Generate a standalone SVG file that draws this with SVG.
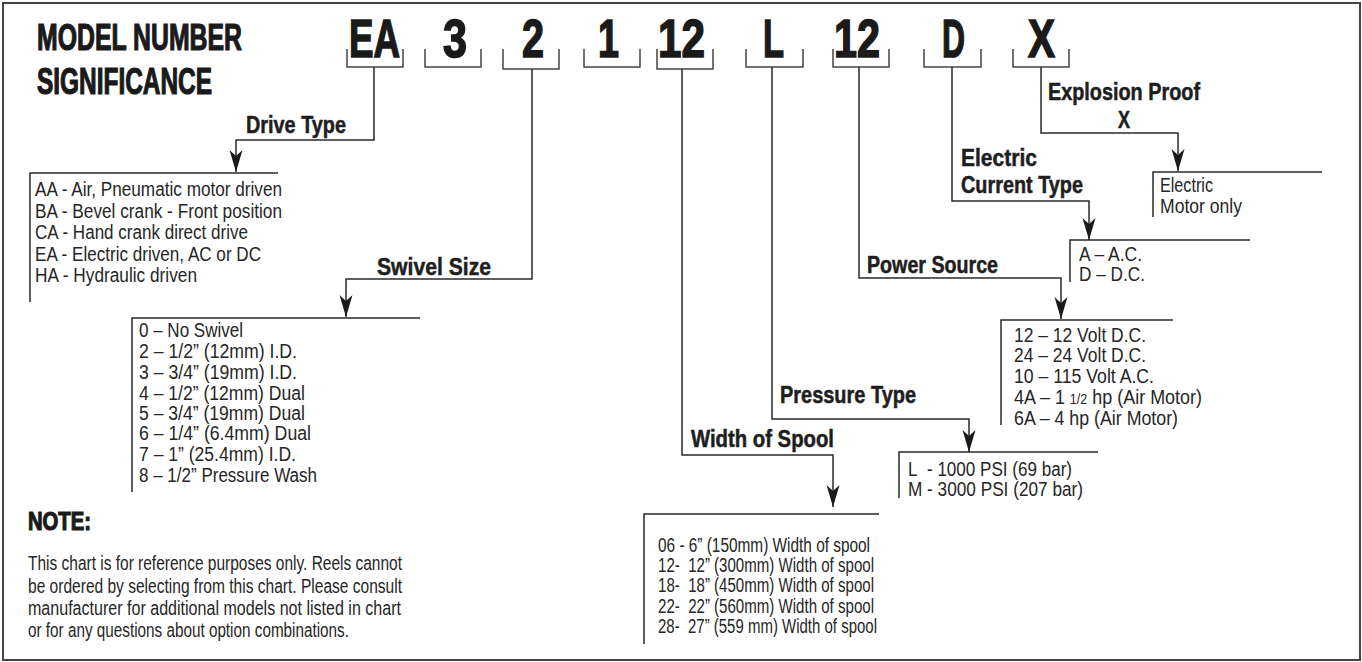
<svg xmlns="http://www.w3.org/2000/svg" width="1362" height="662" viewBox="0 0 1362 662">
<style>
.t{font-family:"Liberation Sans Narrow","Liberation Sans",Arial,sans-serif;font-size:20px;fill:#262626}
.s{font-size:20px}
.d{font-size:20px}
.b{font-family:"Liberation Sans Narrow","Liberation Sans",Arial,sans-serif;font-weight:bold;font-size:23px;fill:#1e1e1e;stroke:#1e1e1e;stroke-width:0.5}
.h{font-family:"Liberation Sans Narrow","Liberation Sans",Arial,sans-serif;font-weight:bold;fill:#1a1a1a;stroke:#1a1a1a;stroke-width:1.2}
.c{font-size:54px;stroke-width:1.6}
.ln{fill:none;stroke:#2a2a2a;stroke-width:1.5}
.br{fill:none;stroke:#444;stroke-width:1.5}
.ar{fill:none;stroke:#2a2a2a;stroke-width:1.5;marker-end:url(#ah)}
</style>
<defs>
<marker id="ah" viewBox="0 0 22 14" refX="22" refY="7" markerWidth="22" markerHeight="14" markerUnits="userSpaceOnUse" orient="auto">
<path d="M0,0.5 L22,7 L0,13.5 L6,7 Z" fill="#1a1a1a"/>
</marker>
</defs>
<rect x="3" y="3" width="1357" height="657" fill="#fff" stroke="#444" stroke-width="2"/>

<g id="title">
<text class="h" x="37" y="50" font-size="36" textLength="205" lengthAdjust="spacingAndGlyphs">MODEL NUMBER</text>
<text class="h" x="37" y="94" font-size="36" textLength="175" lengthAdjust="spacingAndGlyphs">SIGNIFICANCE</text>
</g>

<g id="code">
<text class="h c" x="349" y="57" textLength="51" lengthAdjust="spacingAndGlyphs">EA</text>
<text class="h c" x="443" y="57" textLength="24" lengthAdjust="spacingAndGlyphs">3</text>
<text class="h c" x="522" y="57" textLength="22" lengthAdjust="spacingAndGlyphs">2</text>
<text class="h c" x="598" y="57" textLength="21" lengthAdjust="spacingAndGlyphs">1</text>
<text class="h c" x="658" y="57" textLength="47" lengthAdjust="spacingAndGlyphs">12</text>
<text class="h c" x="763" y="57" textLength="21" lengthAdjust="spacingAndGlyphs">L</text>
<text class="h c" x="834" y="57" textLength="46" lengthAdjust="spacingAndGlyphs">12</text>
<text class="h c" x="942" y="57" textLength="23" lengthAdjust="spacingAndGlyphs">D</text>
<text class="h c" x="1028" y="57" textLength="27" lengthAdjust="spacingAndGlyphs">X</text>
<path class="br" d="M347,49V67H403V49 M425,49V67H481V49 M503,49V69H559V49 M584,49V67H640V49 M657,49V69H713V49 M746,49V67H803V49 M833,49V67H889V49 M924,49V67H981V49 M1013,49V67H1069V49"/>
</g>

<g id="connectors">
<polyline class="ar" points="374,67 374,140 236,140 236,172"/>
<polyline class="ar" points="532,69 532,279 346,279 346,317"/>
<polyline class="ar" points="682,69 682,455 833,455 833,507"/>
<polyline class="ar" points="772,67 772,419 969,419 969,452"/>
<polyline class="ar" points="859,67 859,278 1061,278 1061,319"/>
<polyline class="ar" points="952,67 952,201 1089,201 1089,240"/>
<polyline class="ar" points="1041,67 1041,133 1178,133 1178,171"/>
</g>

<g id="drive-type">
<text class="b" x="246" y="133" textLength="100" lengthAdjust="spacingAndGlyphs">Drive Type</text>
<path class="ln" d="M278,173H30V302"/>
<text class="t d" x="35" y="196" textLength="247" lengthAdjust="spacingAndGlyphs">AA - Air, Pneumatic motor driven</text>
<text class="t d" x="35" y="217.5" textLength="247" lengthAdjust="spacingAndGlyphs">BA - Bevel crank - Front position</text>
<text class="t d" x="35" y="239" textLength="213" lengthAdjust="spacingAndGlyphs">CA - Hand crank direct drive</text>
<text class="t d" x="35" y="260.5" textLength="226" lengthAdjust="spacingAndGlyphs">EA - Electric driven, AC or DC</text>
<text class="t d" x="35" y="282" textLength="162" lengthAdjust="spacingAndGlyphs">HA - Hydraulic driven</text>
</g>

<g id="swivel-size">
<text class="b" x="377" y="275" textLength="114" lengthAdjust="spacingAndGlyphs">Swivel Size</text>
<path class="ln" d="M420,318H132V492"/>
<text class="t s" x="139" y="337" textLength="104" lengthAdjust="spacingAndGlyphs">0 – No Swivel</text>
<text class="t s" x="139" y="358" textLength="158" lengthAdjust="spacingAndGlyphs">2 – 1/2” (12mm) I.D.</text>
<text class="t s" x="139" y="379" textLength="158" lengthAdjust="spacingAndGlyphs">3 – 3/4” (19mm) I.D.</text>
<text class="t s" x="139" y="400" textLength="166" lengthAdjust="spacingAndGlyphs">4 – 1/2” (12mm) Dual</text>
<text class="t s" x="139" y="420" textLength="166" lengthAdjust="spacingAndGlyphs">5 – 3/4” (19mm) Dual</text>
<text class="t s" x="139" y="440" textLength="172" lengthAdjust="spacingAndGlyphs">6 – 1/4” (6.4mm) Dual</text>
<text class="t s" x="139" y="461" textLength="157" lengthAdjust="spacingAndGlyphs">7 – 1” (25.4mm) I.D.</text>
<text class="t s" x="139" y="482" textLength="178" lengthAdjust="spacingAndGlyphs">8 – 1/2” Pressure Wash</text>
</g>

<g id="width-of-spool">
<text class="b" x="691" y="447" textLength="143" lengthAdjust="spacingAndGlyphs">Width of Spool</text>
<path class="ln" d="M879,514H644V644"/>
<text class="t s" x="658" y="552" textLength="212" lengthAdjust="spacingAndGlyphs">06 - 6” (150mm) Width of spool</text>
<text class="t s" x="658" y="572" textLength="216" lengthAdjust="spacingAndGlyphs">12-&#160; 12” (300mm) Width of spool</text>
<text class="t s" x="658" y="592" textLength="216" lengthAdjust="spacingAndGlyphs">18-&#160; 18” (450mm) Width of spool</text>
<text class="t s" x="658" y="613" textLength="216" lengthAdjust="spacingAndGlyphs">22-&#160; 22” (560mm) Width of spool</text>
<text class="t s" x="658" y="633" textLength="219" lengthAdjust="spacingAndGlyphs">28-&#160; 27” (559 mm) Width of spool</text>
</g>

<g id="pressure-type">
<text class="b" x="780" y="403" textLength="136" lengthAdjust="spacingAndGlyphs">Pressure Type</text>
<path class="ln" d="M1098,452H899V498"/>
<text class="t s" x="908" y="476" textLength="164" lengthAdjust="spacingAndGlyphs">L&#160; - 1000 PSI (69 bar)</text>
<text class="t s" x="908" y="496" textLength="175" lengthAdjust="spacingAndGlyphs">M - 3000 PSI (207 bar)</text>
</g>

<g id="power-source">
<text class="b" x="867" y="273" textLength="131" lengthAdjust="spacingAndGlyphs">Power Source</text>
<path class="ln" d="M1173,320H1001V425"/>
<text class="t s" x="1014" y="342" textLength="132" lengthAdjust="spacingAndGlyphs">12 – 12 Volt D.C.</text>
<text class="t s" x="1014" y="362" textLength="132" lengthAdjust="spacingAndGlyphs">24 – 24 Volt D.C.</text>
<text class="t s" x="1014" y="383" textLength="140" lengthAdjust="spacingAndGlyphs">10 – 115 Volt A.C.</text>
<text class="t s" x="1014" y="404" textLength="188" lengthAdjust="spacingAndGlyphs">4A – 1 <tspan font-size="14">1/2</tspan> hp (Air Motor)</text>
<text class="t s" x="1014" y="425" textLength="164" lengthAdjust="spacingAndGlyphs">6A – 4 hp (Air Motor)</text>
</g>

<g id="electric-current-type">
<text class="b" x="961" y="166" textLength="76" lengthAdjust="spacingAndGlyphs">Electric</text>
<text class="b" x="961" y="193" textLength="122" lengthAdjust="spacingAndGlyphs">Current Type</text>
<path class="ln" d="M1250,240H1070V282"/>
<text class="t s" x="1079" y="261" textLength="63" lengthAdjust="spacingAndGlyphs">A – A.C.</text>
<text class="t s" x="1079" y="281" textLength="66" lengthAdjust="spacingAndGlyphs">D – D.C.</text>
</g>

<g id="explosion-proof">
<text class="b" x="1048" y="100" textLength="152" lengthAdjust="spacingAndGlyphs">Explosion Proof</text>
<text class="b" x="1118" y="128" textLength="12" lengthAdjust="spacingAndGlyphs">X</text>
<path class="ln" d="M1322,172H1153V217"/>
<text class="t s" x="1160" y="192" textLength="53" lengthAdjust="spacingAndGlyphs">Electric</text>
<text class="t s" x="1160" y="213" textLength="82" lengthAdjust="spacingAndGlyphs">Motor only</text>
</g>

<g id="note">
<text class="h" x="28" y="530" font-size="26" textLength="63" lengthAdjust="spacingAndGlyphs">NOTE:</text>
<text class="t" x="28" y="570" textLength="374" lengthAdjust="spacingAndGlyphs">This chart is for reference purposes only. Reels cannot</text>
<text class="t" x="28" y="593" textLength="374" lengthAdjust="spacingAndGlyphs">be ordered by selecting from this chart. Please consult</text>
<text class="t" x="28" y="615" textLength="373" lengthAdjust="spacingAndGlyphs">manufacturer for additional models not listed in chart</text>
<text class="t" x="28" y="637" textLength="321" lengthAdjust="spacingAndGlyphs">or for any questions about option combinations.</text>
</g>
</svg>
